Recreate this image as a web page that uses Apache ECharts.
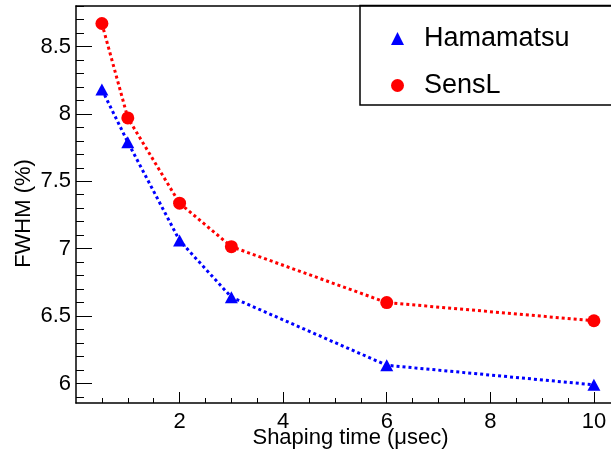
<!DOCTYPE html>
<html>
<head>
<meta charset="utf-8">
<script src="https://cdn.jsdelivr.net/npm/echarts@6/dist/echarts.min.js"></script>
<style>
  html, body { margin: 0; padding: 0; background: #fff; }
  #main { width: 611px; height: 455px; }
</style>
</head>
<body>
<div id="main"></div>
<script>
// shaping time in usec
var shapingTime = [0.5, 1, 2, 3, 6, 10];
// FWHM (%)
var hamamatsu = [8.18, 7.79, 7.06, 6.64, 6.135, 5.99];
var sensl = [8.67, 7.97, 7.337, 7.015, 6.6, 6.465];
var seriesNames = ['Hamamatsu', 'SensL'];
var xTickLabels = [2, 4, 6, 8, 10];
var yTickLabels = [6, 6.5, 7, 7.5, 8, 8.5];

// minor ticks (0.5 on x, 0.1 on y)
var xMinor = [];
for (var i = 1; i <= 20; i++) xMinor.push(i * 0.5);
var yMinor = [];
for (var j = 59; j <= 88; j++) yMinor.push(Math.round(j) / 10);

var font = 'Liberation Sans';
var chart = echarts.init(document.getElementById('main'));

function pairs(xs, ys) {
    return xs.map(function (x, k) { return [x, ys[k]]; });
}

var xMin = 0, xMax = 10.33, yMin = 5.855, yMax = 8.8;

chart.setOption({
    animation: false,
    grid: {
        left: 76, top: 6, height: 397, width: 535,
        containLabel: false,
        outerBoundsMode: 'none'
    },
    legend: {
        orient: 'vertical',
        left: 386, top: 20,
        itemWidth: 13, itemHeight: 13,
        itemGap: 20,
        textStyle: { fontFamily: font, fontSize: 27, color: '#000', padding: [0, 0, 0, 15] },
        data: [
            { name: seriesNames[0], icon: 'triangle' },
            { name: seriesNames[1], icon: 'circle' }
        ]
    },
    graphic: [{
        type: 'rect',
        shape: { x: 360, y: 5.5, width: 270, height: 99.5 },
        style: { fill: null, stroke: '#000', lineWidth: 1.5 },
        z: 100
    }],
    xAxis: [{
        type: 'value', min: xMin, max: xMax,
        name: 'Shaping time (\u03bcsec)',
        nameLocation: 'middle', nameGap: 24, nameMoveOverlap: false,
        nameTextStyle: { fontFamily: font, fontSize: 22, color: '#000', padding: [0, 0, 0, 14] },
        axisLine: { lineStyle: { color: '#000', width: 1.5 } },
        axisTick: { inside: true, length: 11, customValues: xTickLabels, lineStyle: { color: '#000', width: 1 } },
        axisLabel: { customValues: xTickLabels, fontFamily: font, fontSize: 22, color: '#000', margin: 8 },
        splitLine: { show: false }
    }, {
        type: 'value', min: xMin, max: xMax, position: 'bottom',
        axisLine: { show: false },
        axisTick: { inside: true, length: 5, customValues: xMinor, lineStyle: { color: '#000', width: 1 } },
        axisLabel: { show: false },
        splitLine: { show: false }
    }, {
        // top frame line only
        type: 'value', min: xMin, max: xMax, position: 'top',
        axisLine: { lineStyle: { color: '#000', width: 1.5 } },
        axisTick: { show: false },
        axisLabel: { show: false },
        splitLine: { show: false }
    }],
    yAxis: [{
        type: 'value', min: yMin, max: yMax,
        name: 'FWHM (%)',
        nameLocation: 'middle', nameGap: 41, nameRotate: 90, nameMoveOverlap: false,
        nameTextStyle: { fontFamily: font, fontSize: 22, color: '#000', padding: [0, 18, 0, 0] },
        axisLine: { lineStyle: { color: '#000', width: 1.5 } },
        axisTick: { inside: true, length: 16, customValues: yTickLabels, lineStyle: { color: '#000', width: 1 } },
        axisLabel: { customValues: yTickLabels, fontFamily: font, fontSize: 22, color: '#000', margin: 5 },
        splitLine: { show: false }
    }, {
        type: 'value', min: yMin, max: yMax, position: 'left',
        axisLine: { show: false },
        axisTick: { inside: true, length: 8, customValues: yMinor, lineStyle: { color: '#000', width: 1 } },
        axisLabel: { show: false },
        splitLine: { show: false }
    }],
    series: [{
        name: seriesNames[0],
        type: 'line',
        data: pairs(shapingTime, hamamatsu),
        symbol: 'triangle',
        symbolSize: [13, 12],
        itemStyle: { color: '#0000ff' },
        lineStyle: { color: '#0000ff', width: 3, type: [3, 3] }
    }, {
        name: seriesNames[1],
        type: 'line',
        data: pairs(shapingTime, sensl),
        symbol: 'circle',
        symbolSize: 13,
        itemStyle: { color: '#ff0000' },
        lineStyle: { color: '#ff0000', width: 3, type: [3, 3] }
    }]
});
</script>
</body>
</html>
